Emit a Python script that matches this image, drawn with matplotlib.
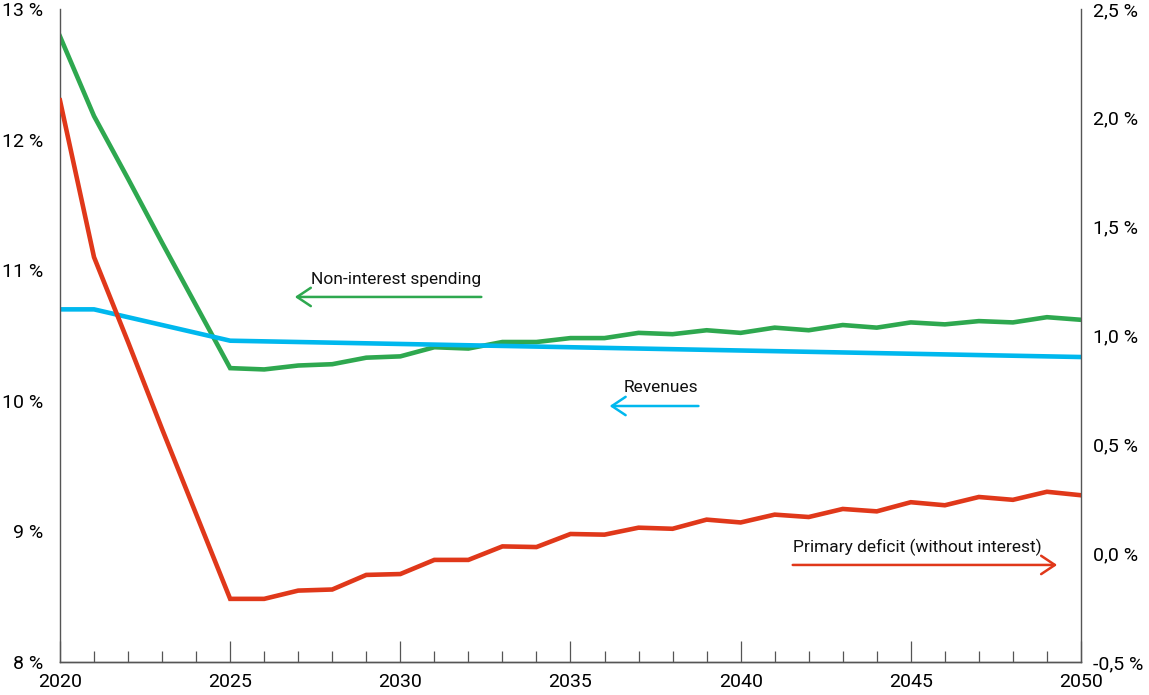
import matplotlib
matplotlib.use('Agg')
import matplotlib.pyplot as plt
from matplotlib.ticker import MultipleLocator, FixedLocator

plt.rcParams['font.family'] = ['Roboto', 'DejaVu Sans']

# data (% of GDP)
years = list(range(2020, 2051))

spending = [12.79, 12.18, 11.70, 11.21, 10.73, 10.25, 10.24, 10.27, 10.28, 10.33,
            10.34, 10.41, 10.40, 10.45, 10.45, 10.48, 10.48, 10.52, 10.51, 10.54,
            10.52, 10.56, 10.54, 10.58, 10.56, 10.60, 10.585, 10.61, 10.60, 10.64,
            10.62]

revenues = [10.70, 10.70, 10.64, 10.58, 10.52, 10.46, 10.455, 10.45, 10.445, 10.44,
            10.435, 10.43, 10.425, 10.42, 10.415, 10.41, 10.405, 10.40, 10.395, 10.39,
            10.385, 10.38, 10.375, 10.37, 10.365, 10.36, 10.355, 10.35, 10.345, 10.34,
            10.335]

deficit = [2.08, 1.36, 0.97, 0.57, 0.18, -0.21, -0.21, -0.172, -0.167, -0.10,
           -0.096, -0.031, -0.031, 0.031, 0.028, 0.088, 0.085, 0.117, 0.112, 0.154,
           0.141, 0.177, 0.166, 0.203, 0.192, 0.234, 0.22, 0.258, 0.245, 0.282,
           0.266]

left_ticks = [8, 9, 10, 11, 12, 13]
left_labels = ['8 %', '9 %', '10 %', '11 %', '12 %', '13 %']
right_ticks = [-0.5, 0.0, 0.5, 1.0, 1.5, 2.0, 2.5]
right_labels = ['-0,5 %', '0,0 %', '0,5 %', '1,0 %', '1,5 %', '2,0 %', '2,5 %']

green = '#2ea84f'
blue = '#00b8ee'
red = '#e0381a'
grey = '#555555'

fig = plt.figure(figsize=(11.49, 6.95), dpi=100)
ax = fig.add_axes([0.0522, 0.0475, 0.8886, 0.9396])
ax2 = ax.twinx()

ax.plot(years, spending, color=green, lw=3.3, solid_joinstyle='miter')
ax.plot(years, revenues, color=blue, lw=3.3)
ax2.plot(years, deficit, color=red, lw=3.3, solid_joinstyle='miter')

ax.set_xlim(2020, 2050)
ax.set_ylim(8, 13)
ax2.set_ylim(-0.5, 2.5)

ax.xaxis.set_major_locator(MultipleLocator(5))
ax.xaxis.set_minor_locator(MultipleLocator(1))
ax.tick_params(axis='x', which='major', direction='in', length=15, width=0.9,
               color=grey, labelsize=14, pad=8)
ax.tick_params(axis='x', which='minor', direction='in', length=8, width=0.9,
               color=grey)

ax.yaxis.set_major_locator(FixedLocator(left_ticks))
ax.set_yticklabels(left_labels)
ax.tick_params(axis='y', length=0, labelsize=14, pad=12)
ax2.yaxis.set_major_locator(FixedLocator(right_ticks))
ax2.set_yticklabels(right_labels)
ax2.tick_params(axis='y', length=0, labelsize=14, pad=9)

for a in (ax, ax2):
    a.spines['top'].set_visible(False)
    for s in ('left', 'right', 'bottom'):
        a.spines[s].set_color(grey)
        a.spines[s].set_linewidth(1.0)
ax.spines['right'].set_visible(False)
ax2.spines['left'].set_visible(False)

# labels with arrows pointing to the axis each series belongs to
arrow = '->,head_length=0.45,head_width=0.3'

ax.text(2032.38, 10.925, 'Non-interest spending', ha='right', va='center',
        fontsize=12.5, color='#111111')
ax.annotate('', xy=(2026.9, 10.795), xytext=(2032.38, 10.795),
            arrowprops=dict(arrowstyle=arrow, color=green, lw=1.8,
                            shrinkA=0, shrinkB=0, mutation_scale=22))

ax.text(2038.76, 10.098, 'Revenues', ha='right', va='center',
        fontsize=12.5, color='#111111')
ax.annotate('', xy=(2036.15, 9.96), xytext=(2038.76, 9.96),
            arrowprops=dict(arrowstyle=arrow, color=blue, lw=1.8,
                            shrinkA=0, shrinkB=0, mutation_scale=22))

ax.text(2041.53, 8.88, 'Primary deficit (without interest)', ha='left',
        va='center', fontsize=12.5, color='#111111')
ax.annotate('', xy=(2049.3, 8.743), xytext=(2041.53, 8.743),
            arrowprops=dict(arrowstyle=arrow, color=red, lw=1.8,
                            shrinkA=0, shrinkB=0, mutation_scale=22))

fig.savefig('out.png', dpi=100)
